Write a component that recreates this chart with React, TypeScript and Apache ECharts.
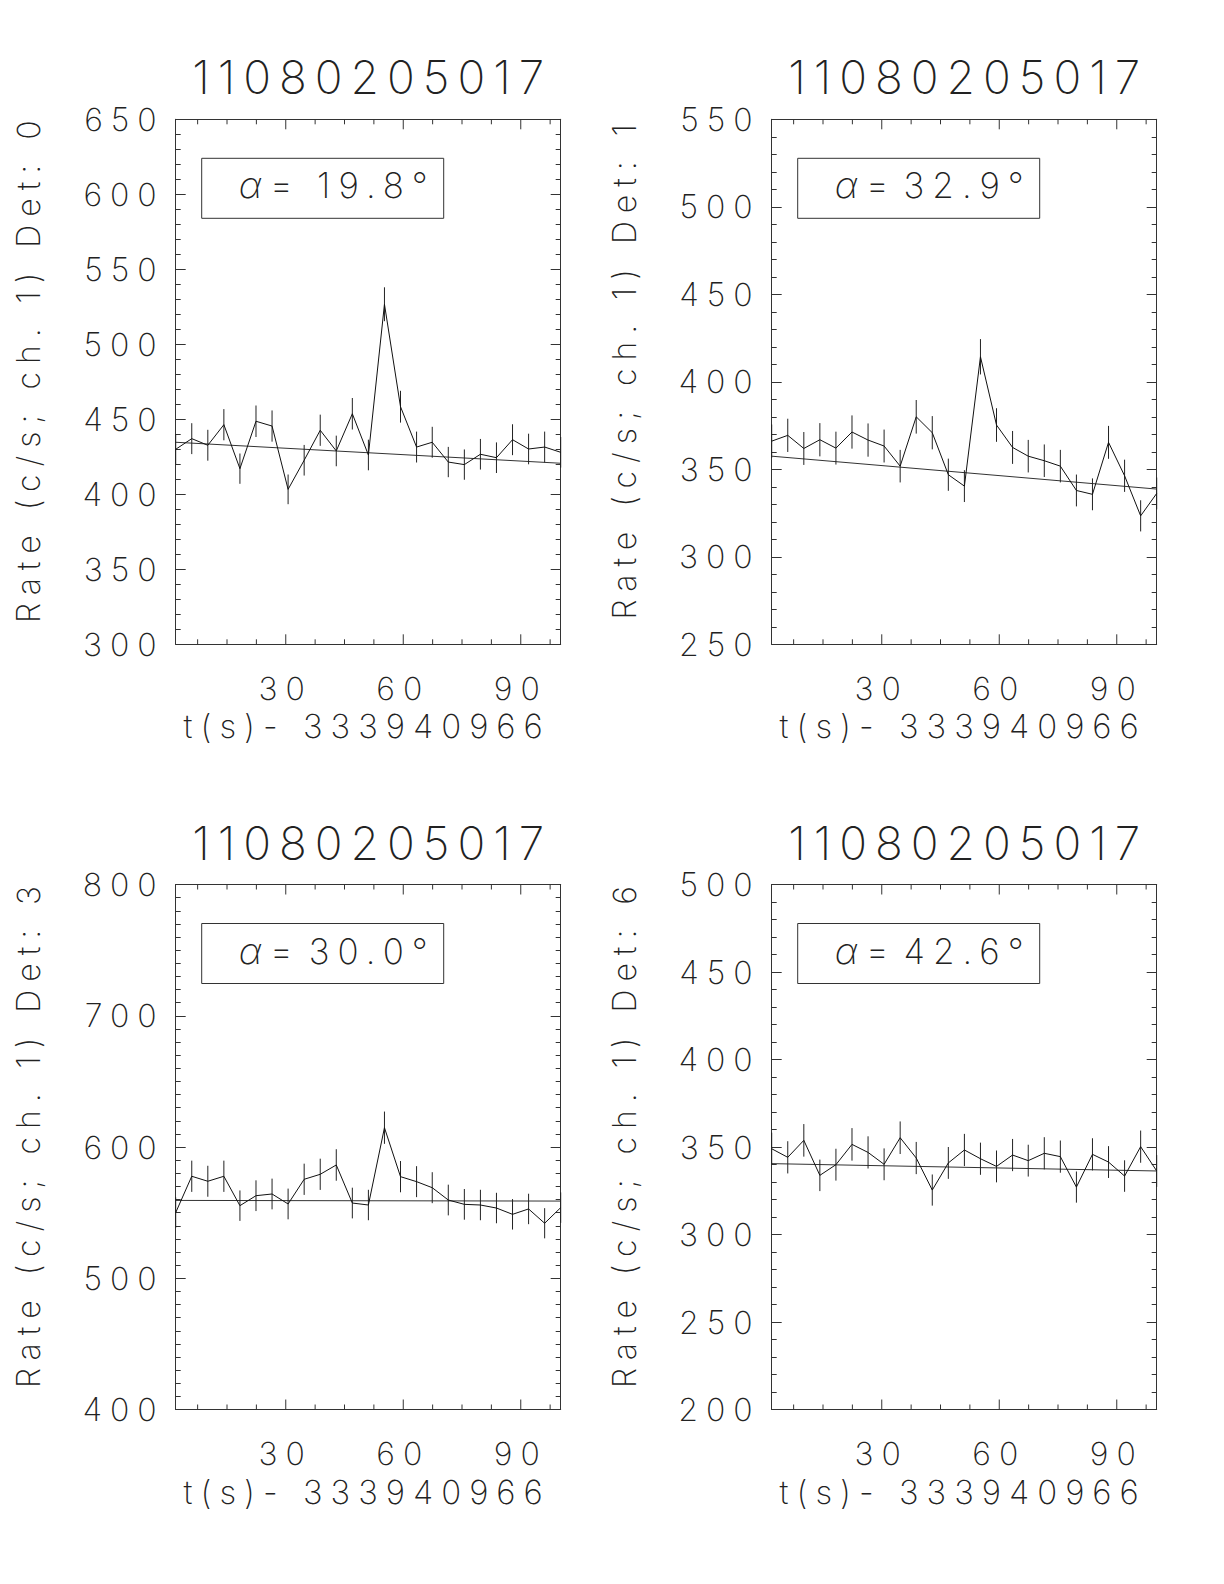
import React, { useEffect, useRef } from "react";
import * as echarts from "echarts";

const titleText = "11080205017";
const xAxisTitle = "t(s)- 333940966";
const yAxisTitles = [
  "Rate (c/s; ch. 1) Det: 0",
  "Rate (c/s; ch. 1) Det: 1",
  "Rate (c/s; ch. 1) Det: 3",
  "Rate (c/s; ch. 1) Det: 6",
];
const angleLabels = ["19.8", "32.9", "30.0", "42.6"];

const timeBins = [1.9, 6.0, 10.1, 14.2, 18.3, 22.4, 26.5, 30.6, 34.7, 38.8, 42.9, 47.0, 51.1, 55.2, 59.3, 63.4, 67.4, 71.5, 75.6, 79.7, 83.8, 87.9, 92.0, 96.1, 100.2];
const xTickValues = [7.5, 15, 22.5, 30, 37.5, 45, 52.5, 60, 67.5, 75, 82.5, 90, 97.5];

const rates0 = [430, 437.1, 432.7, 446.4, 417.1, 448.7, 445.5, 403.3, 422.7, 442.7, 428.9, 453.7, 426.2, 526.7, 458.4, 431.5, 434.7, 421.5, 419.8, 426.7, 424.4, 436.4, 430.2, 431.5, 428];
const errs0 = [10.2, 10.3, 10.3, 10.4, 10.1, 10.5, 10.4, 9.9, 10.2, 10.4, 10.2, 10.5, 10.2, 11.3, 10.6, 10.3, 10.3, 10.1, 10.1, 10.2, 10.2, 10.3, 10.2, 10.3, 10.2];
const fit0 = [434.7, 420.7];

const rates1 = [366.1, 369.4, 361.9, 366.9, 362.1, 371.3, 366.7, 363.3, 351.8, 380, 370.9, 346.9, 340.4, 414.3, 375.3, 362.5, 357.5, 354.9, 351.8, 337.9, 335.7, 365.4, 346.3, 323.4, 336.2];
const errs1 = [9.5, 9.5, 9.4, 9.5, 9.4, 9.5, 9.5, 9.4, 9.3, 9.6, 9.5, 9.2, 9.1, 10.1, 9.6, 9.4, 9.3, 9.3, 9.3, 9.1, 9.1, 9.4, 9.2, 8.9, 9.1];
const fit1 = [357.5, 338.7];

const rates3 = [550, 577.7, 573.9, 577.7, 555.3, 562.9, 564.2, 556.6, 575.4, 579.2, 586.3, 557.3, 555.8, 614.7, 577.4, 573.6, 569, 559.6, 556.3, 555.8, 553.5, 548.7, 552.8, 541.9, 553.8];
const errs3 = [11.6, 11.9, 11.8, 11.9, 11.6, 11.7, 11.7, 11.7, 11.9, 11.9, 12.0, 11.7, 11.6, 12.3, 11.9, 11.8, 11.8, 11.7, 11.7, 11.6, 11.6, 11.6, 11.6, 11.5, 11.6];
const fit3 = [559.3, 558.8];

const rates6 = [349, 344.1, 353.8, 333.8, 339.9, 351.5, 346.9, 340.1, 355.3, 343.7, 325.4, 340.9, 348.3, 343.3, 338.9, 345.4, 342.2, 346.4, 344.5, 327.1, 345.8, 341.4, 333.4, 350.2, 336.3];
const errs6 = [9.2, 9.2, 9.3, 9.0, 9.1, 9.3, 9.2, 9.1, 9.3, 9.2, 8.9, 9.1, 9.2, 9.2, 9.1, 9.2, 9.1, 9.2, 9.2, 8.9, 9.2, 9.1, 9.0, 9.2, 9.1];
const fit6 = [340.5, 336.3];

const yMins = [300, 250, 400, 200];
const yMaxs = [650, 550, 800, 500];
const yIntervals = [50, 50, 100, 50];
const yMinorSplits = [5, 5, 10, 5];

const panelRates = [rates0, rates1, rates3, rates6];
const panelErrs = [errs0, errs1, errs3, errs6];
const panelFits = [fit0, fit1, fit3, fit6];

// layout
const panelLefts = [175.7, 771.7, 175.7, 771.7];
const panelTops = [119.3, 119.3, 884.5, 884.5];
const PW = 385;
const PH = 525;

const FONT = "Inter";
const FW = 200;
const TXT = "#222";
const LINE = "#333";

function txt(x: number, y: number, text: string, size: number, align: string, extra: any = {}) {
  return {
    type: "text",
    x,
    y,
    ...extra,
    style: {
      text,
      fill: TXT,
      fontSize: size,
      fontFamily: FONT,
      fontWeight: FW,
      fontStyle: extra.italic ? "italic" : "normal",
      align,
      verticalAlign: "middle",
      textAlign: align,
      textVerticalAlign: "middle",
    },
  };
}

export default function App() {
  const ref = useRef<HTMLDivElement>(null);
  useEffect(() => {
    if (!ref.current) return;
    const chart = echarts.init(ref.current, undefined, { renderer: "svg" });

    const grids: any[] = [];
    const xAxes: any[] = [];
    const yAxes: any[] = [];
    const series: any[] = [];
    const graphics: any[] = [];

    for (let i = 0; i < 4; i++) {
      const L = panelLefts[i];
      const T = panelTops[i];
      grids.push({ left: L, top: T, width: PW, height: PH });
      const xMin = timeBins[0];
      const xMax = timeBins[timeBins.length - 1];
      xAxes.push({
        type: "value",
        gridIndex: i,
        min: xMin,
        max: xMax,
        splitNumber: 3,
        axisLine: { show: true, lineStyle: { color: LINE, width: 1 } },
        axisTick: { show: false },
        splitLine: { show: false },
        axisLabel: {
          showMinLabel: false,
          showMaxLabel: false,
          formatter: (v: number) => (Math.abs(v % 30) < 1e-6 ? String(v) : ""),
          fontSize: 32,
          fontFamily: FONT,
          fontWeight: FW,
          color: TXT,
          margin: 28,
        },
      });
      xAxes.push({
        type: "value",
        gridIndex: i,
        position: "top",
        min: xMin,
        max: xMax,
        axisLine: { show: true, lineStyle: { color: LINE, width: 1 } },
        axisTick: { show: false },
        axisLabel: { show: false },
        splitLine: { show: false },
      });
      const yCommon = {
        type: "value",
        gridIndex: i,
        min: yMins[i],
        max: yMaxs[i],
        interval: yIntervals[i],
        axisLine: { show: true, lineStyle: { color: LINE, width: 1 } },
        axisTick: { show: true, inside: true, length: 10, lineStyle: { color: LINE, width: 1 } },
        minorTick: { show: true, splitNumber: yMinorSplits[i], length: 5, lineStyle: { color: LINE, width: 1 } },
        splitLine: { show: false },
        minorSplitLine: { show: false },
      };
      yAxes.push({
        ...yCommon,
        position: "left",
        axisLabel: {
          fontSize: 32,
          fontFamily: FONT,
          fontWeight: FW,
          color: TXT,
          margin: 11,
        },
      });
      yAxes.push({
        ...yCommon,
        position: "right",
        axisLabel: { show: false },
      });

      const rates = panelRates[i];
      const errs = panelErrs[i];
      const fit = panelFits[i];
      const yMin = yMins[i];

      series.push({
        type: "line",
        xAxisIndex: 2 * i,
        yAxisIndex: 2 * i,
        data: timeBins.map((t, k) => [t, rates[k]]),
        symbol: "none",
        lineStyle: { color: "#111", width: 1 },
        z: 4,
      });
      series.push({
        type: "line",
        xAxisIndex: 2 * i,
        yAxisIndex: 2 * i,
        data: [
          [xMin, fit[0]],
          [xMax, fit[1]],
        ],
        symbol: "none",
        lineStyle: { color: "#333", width: 1 },
        z: 3,
      });
      series.push({
        type: "custom",
        xAxisIndex: 2 * i,
        yAxisIndex: 2 * i,
        data: timeBins.map((t, k) => [t, rates[k] - errs[k], rates[k] + errs[k]]),
        encode: { x: 0, y: [1, 2] },
        renderItem: (params: any, api: any) => {
          const x = api.value(0);
          const lo = api.coord([x, api.value(1)]);
          const hi = api.coord([x, api.value(2)]);
          return {
            type: "line",
            shape: { x1: lo[0], y1: lo[1], x2: hi[0], y2: hi[1] },
            style: { stroke: "#222", lineWidth: 1 },
          };
        },
        z: 4,
      });
      series.push({
        type: "custom",
        xAxisIndex: 2 * i,
        yAxisIndex: 2 * i,
        data: xTickValues.map((v) => [v, yMin]),
        encode: { x: 0, y: 1 },
        renderItem: (params: any, api: any) => {
          const v = api.value(0);
          const p = api.coord([v, api.value(1)]);
          const cs = params.coordSys;
          const len = Math.abs(v % 30) < 1e-6 ? 10 : 5;
          const bottom = cs.y + cs.height;
          const top = cs.y;
          return {
            type: "group",
            children: [
              { type: "line", shape: { x1: p[0], y1: bottom, x2: p[0], y2: bottom - len }, style: { stroke: LINE, lineWidth: 1 } },
              { type: "line", shape: { x1: p[0], y1: top, x2: p[0], y2: top + len }, style: { stroke: LINE, lineWidth: 1 } },
            ],
          };
        },
        z: 2,
      });

      // title
      graphics.push(txt(L + PW / 2 + 4, T - 42, titleText, 46, "center"));
      // y axis title
      graphics.push(txt(L - 147, T + PH / 2 - 14, yAxisTitles[i], 32, "center", { rotation: Math.PI / 2 }));
      // x axis title
      graphics.push(txt(L + PW / 2 - 1, T + PH + 82, xAxisTitle, 33, "center"));
      // angle box
      graphics.push({
        type: "rect",
        shape: { x: L + 26, y: T + 39, width: 242, height: 60 },
        style: { fill: "none", stroke: LINE, lineWidth: 1 },
      });
      graphics.push(txt(L + 63, T + 66, "α", 36, "left", { italic: true }));
      graphics.push(txt(L + 94, T + 66, "=", 36, "left"));
      graphics.push(txt(L + 260, T + 66, angleLabels[i] + "°", 35, "right"));
    }

    chart.setOption({
      animation: false,
      backgroundColor: "#ffffff",
      grid: grids,
      xAxis: xAxes,
      yAxis: yAxes,
      series,
      graphic: { elements: graphics },
    });
    return () => chart.dispose();
  }, []);

  return (
    <>
      <style>{`.echart-host svg text { letter-spacing: 8px; }`}</style>
      <div
        ref={ref}
        className="echart-host"
        style={{ position: "absolute", left: 0, top: 0, width: 1224, height: 1584, background: "#fff" }}
      />
    </>
  );
}
